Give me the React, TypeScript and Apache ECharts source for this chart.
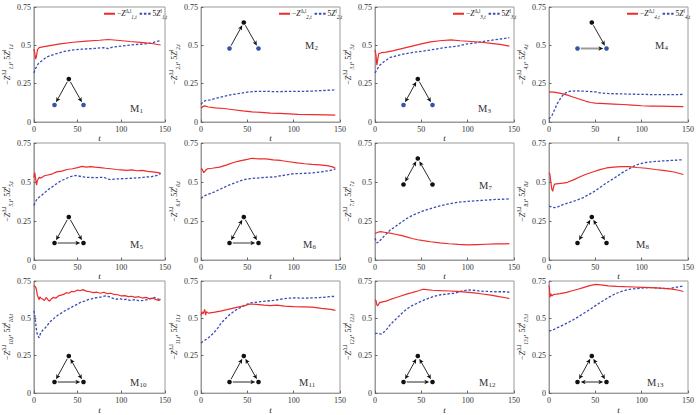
import React, { useEffect, useRef } from "react";
import * as echarts from "echarts";

type Pt = [number, number];

// ---------- data ----------
const motifNumbers = [1, 2, 3, 4, 5, 6, 7, 8, 10, 11, 12, 13];
const xTickValues = [0, 50, 100, 150];
const yTickLabels = ["0", "0.25", "0.5", "0.75"];

const m1Neg: Pt[] = [[0,0.475],[1,0.45],[2,0.41],[3,0.43],[4,0.47],[6,0.485],[10,0.49],[20,0.5],[30,0.51],[45,0.52],[60,0.528],[75,0.533],[85,0.538],[95,0.533],[110,0.525],[125,0.518],[135,0.512],[145,0.502]];
const m1Pos: Pt[] = [[0,0.32],[2,0.35],[5,0.38],[8,0.395],[15,0.425],[25,0.445],[35,0.46],[45,0.47],[55,0.475],[70,0.48],[80,0.485],[85,0.478],[90,0.488],[100,0.495],[115,0.505],[125,0.508],[135,0.515],[140,0.525],[145,0.53]];

const m2Neg: Pt[] = [[0,0.09],[2,0.1],[4,0.105],[8,0.098],[15,0.092],[25,0.088],[35,0.08],[45,0.072],[55,0.066],[65,0.063],[75,0.058],[85,0.056],[95,0.053],[105,0.05],[120,0.048],[135,0.046],[145,0.045]];
const m2Pos: Pt[] = [[0,0.115],[2,0.13],[5,0.14],[10,0.145],[20,0.16],[30,0.175],[40,0.185],[50,0.195],[60,0.2],[70,0.2],[80,0.198],[90,0.199],[100,0.2],[110,0.2],[120,0.202],[130,0.205],[140,0.208],[145,0.21]];

const m3Neg: Pt[] = [[0,0.47],[1,0.44],[2,0.37],[3,0.41],[4,0.445],[7,0.452],[12,0.456],[20,0.465],[30,0.48],[40,0.495],[50,0.51],[60,0.522],[70,0.53],[82,0.535],[92,0.53],[104,0.525],[115,0.52],[125,0.513],[135,0.506],[145,0.495]];
const m3Pos: Pt[] = [[0,0.32],[2,0.34],[5,0.37],[10,0.395],[16,0.42],[25,0.435],[35,0.448],[45,0.457],[55,0.465],[65,0.475],[75,0.485],[89,0.495],[100,0.51],[107,0.515],[120,0.528],[130,0.537],[140,0.545],[145,0.55]];

const m4Neg: Pt[] = [[0,0.197],[5,0.195],[10,0.19],[15,0.183],[20,0.175],[25,0.165],[30,0.155],[35,0.145],[40,0.135],[45,0.127],[50,0.123],[60,0.12],[70,0.117],[80,0.114],[90,0.11],[100,0.106],[110,0.104],[120,0.103],[130,0.102],[145,0.1]];
const m4Pos: Pt[] = [[0,0.02],[3,0.04],[6,0.08],[9,0.12],[12,0.15],[15,0.175],[18,0.19],[22,0.2],[30,0.203],[40,0.2],[50,0.197],[55,0.19],[65,0.185],[80,0.183],[100,0.18],[120,0.178],[135,0.178],[145,0.18]];

const m5Neg: Pt[] = [[0,0.53],[1,0.56],[2,0.52],[3,0.48],[4,0.51],[6,0.53],[8,0.525],[12,0.54],[16,0.545],[20,0.55],[26,0.565],[32,0.57],[38,0.58],[44,0.585],[50,0.592],[55,0.6],[60,0.595],[65,0.598],[70,0.595],[76,0.592],[82,0.588],[88,0.585],[94,0.58],[100,0.578],[106,0.575],[112,0.578],[118,0.572],[124,0.575],[130,0.568],[136,0.565],[142,0.56],[145,0.555]];
const m5Pos: Pt[] = [[0,0.35],[2,0.375],[4,0.395],[8,0.41],[12,0.43],[16,0.45],[20,0.465],[25,0.485],[30,0.505],[36,0.52],[42,0.535],[48,0.542],[54,0.535],[60,0.53],[70,0.528],[80,0.53],[84,0.52],[88,0.515],[95,0.52],[105,0.522],[115,0.525],[125,0.53],[135,0.535],[141,0.542],[145,0.555]];

const m6Neg: Pt[] = [[0,0.58],[1,0.585],[3,0.56],[5,0.575],[7,0.585],[12,0.588],[20,0.595],[28,0.61],[35,0.625],[42,0.635],[50,0.645],[55,0.652],[62,0.648],[70,0.648],[78,0.642],[86,0.638],[95,0.63],[104,0.622],[112,0.617],[120,0.613],[128,0.61],[136,0.605],[142,0.597],[145,0.588]];
const m6Pos: Pt[] = [[0,0.395],[3,0.41],[7,0.42],[14,0.435],[21,0.455],[30,0.48],[39,0.5],[45,0.513],[50,0.52],[60,0.525],[70,0.53],[80,0.533],[86,0.54],[92,0.545],[100,0.553],[110,0.555],[120,0.558],[130,0.565],[140,0.575],[145,0.583]];

const m7Neg: Pt[] = [[0,0.17],[3,0.178],[6,0.182],[10,0.178],[16,0.172],[22,0.165],[28,0.158],[34,0.148],[40,0.138],[46,0.13],[52,0.124],[60,0.117],[70,0.11],[80,0.104],[90,0.1],[100,0.097],[110,0.099],[120,0.101],[130,0.103],[140,0.104],[145,0.105]];
const m7Pos: Pt[] = [[0,0.14],[2,0.11],[4,0.115],[7,0.135],[11,0.16],[16,0.19],[22,0.215],[28,0.24],[34,0.265],[40,0.285],[46,0.3],[52,0.315],[60,0.33],[70,0.347],[80,0.36],[90,0.37],[100,0.376],[110,0.38],[120,0.384],[130,0.388],[140,0.39],[145,0.392]];

const m8Neg: Pt[] = [[0,0.56],[1,0.55],[2,0.5],[3,0.455],[4,0.44],[5,0.47],[6,0.486],[10,0.49],[15,0.493],[20,0.498],[27,0.515],[33,0.532],[40,0.55],[48,0.566],[55,0.579],[62,0.59],[70,0.595],[78,0.598],[86,0.598],[95,0.593],[105,0.588],[115,0.58],[125,0.573],[135,0.564],[145,0.548]];
const m8Pos: Pt[] = [[0,0.345],[3,0.34],[6,0.335],[10,0.342],[15,0.355],[20,0.365],[26,0.375],[32,0.388],[37,0.4],[43,0.42],[49,0.44],[55,0.465],[61,0.49],[67,0.512],[73,0.535],[79,0.56],[85,0.58],[91,0.6],[97,0.615],[104,0.625],[112,0.63],[122,0.635],[132,0.638],[145,0.643]];

const m10Neg: Pt[] = [[0,0.72],[1,0.715],[2,0.71],[3,0.69],[4,0.655],[5,0.64],[6,0.625],[7,0.645],[8,0.635],[10,0.63],[12,0.62],[14,0.64],[16,0.625],[18,0.615],[20,0.63],[22,0.64],[25,0.635],[28,0.65],[31,0.655],[34,0.66],[37,0.672],[40,0.668],[43,0.68],[46,0.678],[50,0.69],[53,0.685],[56,0.692],[60,0.682],[64,0.678],[68,0.672],[72,0.675],[76,0.668],[80,0.675],[84,0.665],[88,0.668],[92,0.66],[96,0.658],[100,0.65],[104,0.652],[108,0.645],[112,0.648],[116,0.64],[120,0.645],[124,0.636],[128,0.64],[132,0.632],[136,0.635],[140,0.625],[143,0.62],[145,0.628]];
const m10Pos: Pt[] = [[0,0.55],[1,0.52],[2,0.47],[3,0.42],[4,0.39],[5,0.38],[6,0.37],[7,0.39],[8,0.405],[10,0.42],[12,0.43],[15,0.45],[18,0.475],[21,0.49],[24,0.505],[27,0.52],[30,0.53],[34,0.545],[38,0.56],[42,0.57],[46,0.585],[50,0.595],[54,0.61],[58,0.615],[62,0.625],[66,0.63],[70,0.638],[74,0.64],[78,0.645],[82,0.65],[86,0.645],[90,0.635],[94,0.628],[98,0.632],[102,0.625],[106,0.628],[110,0.62],[115,0.625],[120,0.618],[125,0.62],[130,0.625],[135,0.635],[138,0.64],[141,0.63],[145,0.625]];

const m11Neg: Pt[] = [[0,0.52],[1,0.545],[2,0.53],[3,0.54],[4,0.56],[5,0.522],[6,0.545],[8,0.535],[10,0.537],[15,0.542],[21,0.549],[28,0.558],[35,0.568],[42,0.578],[48,0.587],[53,0.596],[60,0.594],[68,0.588],[75,0.585],[82,0.588],[90,0.582],[100,0.578],[110,0.577],[120,0.575],[130,0.567],[140,0.56],[145,0.553]];
const m11Pos: Pt[] = [[0,0.335],[3,0.35],[6,0.36],[10,0.38],[14,0.405],[18,0.435],[22,0.47],[26,0.495],[30,0.52],[35,0.545],[40,0.565],[45,0.58],[50,0.595],[55,0.605],[62,0.61],[70,0.615],[78,0.62],[86,0.628],[94,0.635],[102,0.637],[110,0.635],[120,0.637],[130,0.64],[138,0.645],[145,0.648]];

const m12Neg: Pt[] = [[0,0.625],[1,0.62],[2,0.59],[3,0.585],[5,0.605],[8,0.61],[12,0.615],[16,0.625],[22,0.638],[28,0.65],[34,0.662],[40,0.672],[46,0.683],[52,0.695],[56,0.692],[62,0.688],[71,0.685],[80,0.683],[89,0.68],[98,0.675],[107,0.67],[116,0.663],[125,0.655],[134,0.645],[141,0.638],[145,0.632]];
const m12Pos: Pt[] = [[0,0.4],[3,0.4],[7,0.395],[10,0.41],[13,0.43],[16,0.455],[20,0.48],[25,0.51],[30,0.54],[35,0.565],[40,0.585],[46,0.603],[52,0.62],[58,0.635],[64,0.648],[71,0.658],[78,0.663],[85,0.668],[90,0.675],[95,0.685],[100,0.69],[106,0.688],[114,0.682],[122,0.68],[130,0.678],[140,0.678],[145,0.675]];

const m13Neg: Pt[] = [[0,0.72],[0.5,0.7],[1,0.64],[2,0.665],[3,0.65],[5,0.66],[8,0.662],[12,0.665],[19,0.674],[25,0.685],[31,0.695],[37,0.706],[43,0.717],[50,0.727],[56,0.724],[64,0.718],[73,0.714],[82,0.712],[92,0.71],[101,0.708],[110,0.706],[120,0.702],[131,0.697],[140,0.688],[145,0.68]];
const m13Pos: Pt[] = [[0,0.415],[3,0.42],[6,0.428],[10,0.44],[15,0.455],[20,0.47],[26,0.49],[32,0.512],[37,0.532],[43,0.555],[49,0.58],[55,0.605],[61,0.628],[67,0.65],[73,0.668],[79,0.682],[85,0.692],[91,0.697],[100,0.703],[110,0.706],[118,0.703],[127,0.698],[135,0.705],[141,0.712],[145,0.717]];

const negSeries: Pt[][] = [m1Neg, m2Neg, m3Neg, m4Neg, m5Neg, m6Neg, m7Neg, m8Neg, m10Neg, m11Neg, m12Neg, m13Neg];
const posSeries: Pt[][] = [m1Pos, m2Pos, m3Pos, m4Pos, m5Pos, m6Pos, m7Pos, m8Pos, m10Pos, m11Pos, m12Pos, m13Pos];

// motif edges: node 0 = top, 1 = bottom-left, 2 = bottom-right
// kind: "s" single arrow, "d" double arrow, "sg" single arrow with grey shaft
type Edge = [number, number, string];
const motifEdges: Edge[][] = [
  [[0, 1, "s"], [0, 2, "s"]],
  [[1, 0, "s"], [0, 2, "s"]],
  [[0, 1, "d"], [0, 2, "s"]],
  [[0, 2, "s"], [1, 2, "sg"]],
  [[0, 1, "s"], [0, 2, "s"], [1, 2, "sg"]],
  [[0, 1, "d"], [0, 2, "s"], [1, 2, "sg"]],
  [[0, 1, "d"], [2, 0, "s"]],
  [[0, 1, "d"], [0, 2, "d"]],
  [[0, 1, "s"], [0, 2, "d"], [1, 2, "s"]],
  [[1, 0, "s"], [0, 2, "d"], [1, 2, "s"]],
  [[0, 1, "d"], [0, 2, "d"], [1, 2, "s"]],
  [[0, 1, "d"], [0, 2, "d"], [1, 2, "d"]],
];
const motifBlueBottom = [true, true, true, true, false, false, false, false, false, false, false, false];

// ---------- layout / style ----------
const gridLefts = [26, 201, 375, 549];
const gridTops = [7, 143, 281];
const gridHeights = [115, 117, 118];
const gridWidth = 139;
const motifHigh = [false, true, false, true, false, false, true, false, false, false, false, false];
const labelDx = [104, 104, 103, 106, 104, 102, 104, 87, 104, 98, 104, 98];
const labelDy = [101, 38, 101, 38, 101, 101, 42, 101, 101, 101, 101, 101];

const RED = "#ee2a2a";
const BLUE = "#3a4db5";
const NODE_BLUE = "#3352a8";
const SERIF = "'Liberation Serif', 'DejaVu Serif', serif";

const richMath = (fs: number) => ({
  n: { fontSize: fs, fontFamily: SERIF, color: "#222", lineHeight: fs + 4 },
  z: { fontSize: fs, fontFamily: SERIF, fontStyle: "italic", color: "#222", lineHeight: fs + 4 },
  sup: { fontSize: fs * 0.68, fontFamily: SERIF, color: "#222", verticalAlign: "top", lineHeight: fs + 4 },
  sub: { fontSize: fs * 0.68, fontFamily: SERIF, fontStyle: "italic", color: "#222", verticalAlign: "bottom", lineHeight: fs + 4 },
});

function arrowHead(tx: number, ty: number, ux: number, uy: number) {
  const L = 5, W = 2.2, B = 3.6;
  const px = -uy, py = ux;
  return {
    type: "polygon",
    silent: true,
    z: 10,
    shape: {
      points: [
        [tx, ty],
        [tx - ux * L + px * W, ty - uy * L + py * W],
        [tx - ux * B, ty - uy * B],
        [tx - ux * L - px * W, ty - uy * L - py * W],
      ],
    },
    style: { fill: "#111" },
  };
}

function motifGraphics(i: number) {
  const row = Math.floor(i / 4), col = i % 4;
  const gx = gridLefts[col], gy = gridTops[row], gh = gridHeights[row];
  const y0 = motifHigh[i] ? gy + 15.5 : gy + gh - 43;
  const nodes = [
    [gx + 42.8, y0],
    [gx + 28.5, y0 + 26],
    [gx + 57.5, y0 + 26],
  ];
  const els: any[] = [];
  const gap = 3.2;
  for (const [a, b, kind] of motifEdges[i]) {
    const [ax, ay] = nodes[a];
    const [bx, by] = nodes[b];
    const d = Math.hypot(bx - ax, by - ay);
    const ux = (bx - ax) / d, uy = (by - ay) / d;
    const sx = ax + ux * gap, sy = ay + uy * gap;
    const ex = bx - ux * gap, ey = by - uy * gap;
    const dbl = kind === "d";
    const grey = kind === "sg";
    els.push({
      type: "line",
      silent: true,
      z: 9,
      shape: {
        x1: dbl ? sx + ux * 3 : sx,
        y1: dbl ? sy + uy * 3 : sy,
        x2: ex - ux * 3,
        y2: ey - uy * 3,
      },
      style: { stroke: grey ? "#9a9a9a" : "#111", lineWidth: grey ? 2 : 0.9 },
    });
    els.push(arrowHead(ex, ey, ux, uy));
    if (dbl) els.push(arrowHead(sx, sy, -ux, -uy));
  }
  nodes.forEach((p, k) => {
    els.push({
      type: "circle",
      silent: true,
      z: 11,
      shape: { cx: p[0], cy: p[1], r: 2.3 },
      style: { fill: k > 0 && motifBlueBottom[i] ? NODE_BLUE : "#111" },
    });
  });
  const lx = gx + labelDx[i], ly = gy + labelDy[i];
  els.push({
    type: "text",
    silent: true,
    x: lx,
    y: ly,
    style: { text: "M", fontSize: 10.5, fontFamily: SERIF, fontWeight: "normal", fill: "#333", align: "left", verticalAlign: "middle" },
  });
  els.push({
    type: "text",
    silent: true,
    x: lx + 9.5,
    y: ly + 3,
    style: { text: String(motifNumbers[i]), fontSize: 7, fontFamily: SERIF, fontWeight: "normal", fill: "#333", align: "left", verticalAlign: "middle" },
  });
  return els;
}

function buildOption() {
  const grid: any[] = [], xAxis: any[] = [], yAxis: any[] = [], series: any[] = [], legend: any[] = [], graphic: any[] = [];
  for (let i = 0; i < 12; i++) {
    const row = Math.floor(i / 4), col = i % 4;
    const k = motifNumbers[i];
    grid.push({
      left: gridLefts[col],
      top: gridTops[row],
      width: gridWidth,
      height: gridHeights[row],
      show: true,
      borderColor: "#9a9a9a",
      borderWidth: 1,
      backgroundColor: "#fff",
    });
    xAxis.push({
      type: "value",
      gridIndex: i,
      min: xTickValues[0],
      max: xTickValues[xTickValues.length - 1],
      interval: 50,
      axisLine: { show: true, lineStyle: { color: "#9a9a9a" } },
      axisTick: { show: true, inside: true, length: 2.5, lineStyle: { color: "#666" } },
      axisLabel: { fontSize: 8, fontFamily: SERIF, color: "#333", margin: 3 },
      splitLine: { show: false },
      name: "t",
      nameLocation: "middle",
      nameGap: 8,
      nameTextStyle: { fontSize: 9, fontFamily: SERIF, fontStyle: "italic", color: "#222" },
    });
    yAxis.push({
      type: "value",
      gridIndex: i,
      min: 0,
      max: 0.75,
      interval: 0.25,
      axisLine: { show: true, lineStyle: { color: "#9a9a9a" } },
      axisTick: { show: true, inside: true, length: 2.5, lineStyle: { color: "#666" } },
      axisLabel: {
        fontSize: 8,
        fontFamily: SERIF,
        color: "#333",
        margin: 3,
        formatter: (v: number) => yTickLabels[Math.round(v / 0.25)] ?? String(v),
      },
      splitLine: { show: false },
      name: `{n|−}{z|Z}{sup|Δ,l}{sub|${k},t}{n|, 5}{z|Z}{sup|l}{sub|${k},t}`,
      nameLocation: "middle",
      nameGap: 17,
      nameRotate: 90,
      nameTextStyle: { fontSize: 8, fontFamily: SERIF, color: "#222", rich: richMath(8) },
    });
    series.push({
      type: "line",
      name: `pos${k}`,
      xAxisIndex: i,
      yAxisIndex: i,
      data: posSeries[i],
      symbol: "none",
      showSymbol: false,
      lineStyle: { color: BLUE, width: 1.3, type: [2.5, 1.8] },
      itemStyle: { color: BLUE },
      z: 2,
    });
    series.push({
      type: "line",
      name: `neg${k}`,
      xAxisIndex: i,
      yAxisIndex: i,
      data: negSeries[i],
      symbol: "none",
      showSymbol: false,
      lineStyle: { color: RED, width: 1.2 },
      itemStyle: { color: RED },
      z: 3,
    });
    if (row === 0) {
      legend.push({
        data: [`neg${k}`, `pos${k}`],
        left: gridLefts[col] + 77,
        top: gridTops[row] + 1,
        orient: "horizontal",
        padding: 0,
        itemGap: 2,
        itemWidth: 11,
        itemHeight: 6,
        selectedMode: false,
        itemStyle: { opacity: 0 },
        textStyle: { fontSize: 7.5, fontFamily: SERIF, color: "#222", rich: richMath(7.5), padding: [0, 0, 0, -3] },
        formatter: (name: string) =>
          name.startsWith("neg")
            ? `{n|−}{z|Z}{sup|Δ,l}{sub|${k},t}`
            : `{n|5}{z|Z}{sup|l}{sub|${k},t}`,
      });
    }
    graphic.push(...motifGraphics(i));
  }
  return {
    animation: false,
    backgroundColor: "#fff",
    grid,
    xAxis,
    yAxis,
    series,
    legend,
    graphic,
  };
}

export default function App() {
  const ref = useRef<HTMLDivElement>(null);
  useEffect(() => {
    if (!ref.current) return;
    const chart = echarts.init(ref.current, undefined, { renderer: "svg" });
    chart.setOption(buildOption() as any);
    return () => chart.dispose();
  }, []);
  return (
    <div
      ref={ref}
      style={{ position: "absolute", left: 0, top: 0, width: 697, height: 415, background: "#fff" }}
    />
  );
}
